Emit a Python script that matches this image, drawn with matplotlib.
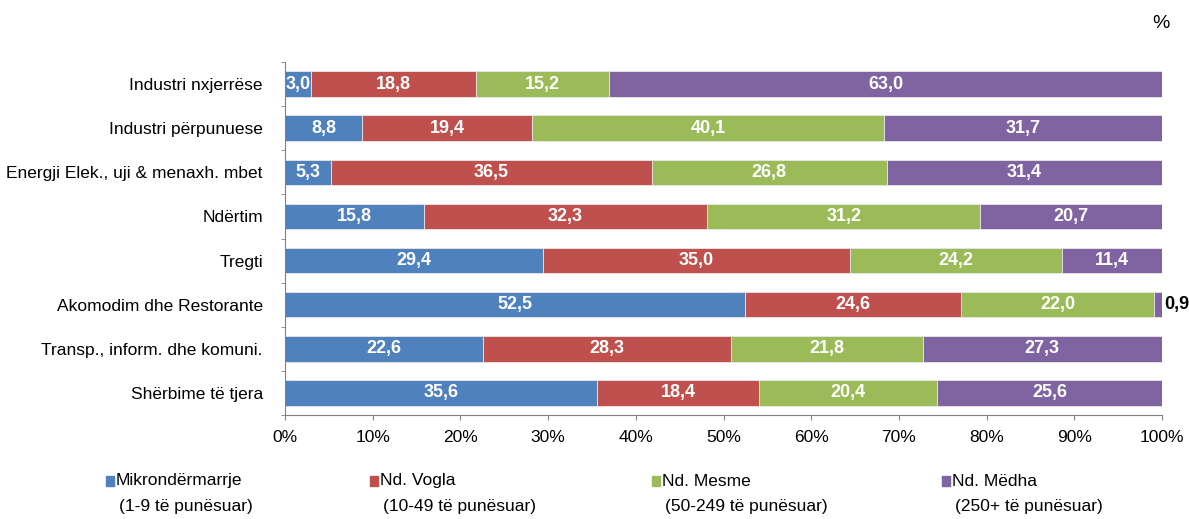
import numpy as np
import matplotlib
matplotlib.use('Agg')
import matplotlib.pyplot as plt
from matplotlib.patches import Rectangle

plt.rcParams['font.family'] = ['Liberation Sans Narrow', 'Liberation Sans', 'DejaVu Sans']

# të dhënat
categories = ['Industri nxjerrëse', 'Industri përpunuese', 'Energji Elek., uji & menaxh. mbet',
              'Ndërtim', 'Tregti', 'Akomodim dhe Restorante',
              'Transp., inform. dhe komuni.', 'Shërbime të tjera']
mikro = [3.0, 8.8, 5.3, 15.8, 29.4, 52.5, 22.6, 35.6]
vogla = [18.8, 19.4, 36.5, 32.3, 35.0, 24.6, 28.3, 18.4]
mesme = [15.2, 40.1, 26.8, 31.2, 24.2, 22.0, 21.8, 20.4]
medha = [63.0, 31.7, 31.4, 20.7, 11.4, 0.9, 27.3, 25.6]
series_names = ['Mikrondërmarrje', 'Nd. Vogla', 'Nd. Mesme', 'Nd. Mëdha']
series_sub = ['(1-9 të punësuar)', '(10-49 të punësuar)', '(50-249 të punësuar)', '(250+ të punësuar)']
colors = ['#4F81BD', '#C0504D', '#9BBB59', '#8064A2']

fig = plt.figure(figsize=(11.89, 5.19), dpi=100)
ax = fig.add_axes([285 / 1189, 1 - 415 / 519, 877 / 1189, 353 / 519])

y = np.arange(len(categories))
left = np.zeros(len(categories))
for vals, col in zip([mikro, vogla, mesme, medha], colors):
    ax.barh(y, vals, left=left, height=0.58, color=col, edgecolor='#e8e8e8', linewidth=0.6)
    for i, v in enumerate(vals):
        lbl = f'{v:.1f}'.replace('.', ',')
        if v < 2:
            ax.text(left[i] + v + 0.2, y[i], lbl, ha='left', va='center',
                    fontsize=13, fontweight='bold', color='black')
        else:
            ax.text(left[i] + v / 2, y[i], lbl, ha='center', va='center',
                    fontsize=13, fontweight='bold', color='white')
    left += np.array(vals)

ax.set_xlim(0, 100)
ax.set_ylim(len(categories) - 0.5, -0.5)
ax.set_xticks(np.arange(0, 101, 10))
ax.set_xticklabels([f'{t}%' for t in range(0, 101, 10)], fontsize=12.5)
ax.set_yticks(y)
ax.set_yticklabels(categories, fontsize=12.5)
ax.tick_params(axis='y', length=0, pad=16)
ax.set_yticks(np.arange(-0.5, len(categories)), minor=True)
ax.tick_params(axis='y', which='minor', length=3, color='#808080')
ax.tick_params(axis='x', length=3.5, color='#808080', pad=7)
for s in ['top', 'right']:
    ax.spines[s].set_visible(False)
for s in ['left', 'bottom']:
    ax.spines[s].set_color('#808080')

fig.text(1161 / 1189, 1 - 23 / 519, '%', ha='center', va='center', fontsize=14)

# legjenda
leg_x = [106, 370, 652, 942]
for lx, name, sub, col in zip(leg_x, series_names, series_sub, colors):
    fig.patches.append(Rectangle((lx / 1189, 1 - 486 / 519), 8 / 1189, 10 / 519,
                                 transform=fig.transFigure, color=col))
    fig.text((lx + 10) / 1189, 1 - 481 / 519, name, ha='left', va='center', fontsize=12.5)
    fig.text((lx + 13) / 1189, 1 - 506 / 519, sub, ha='left', va='center', fontsize=12.5)

fig.savefig('out.png', dpi=100)
